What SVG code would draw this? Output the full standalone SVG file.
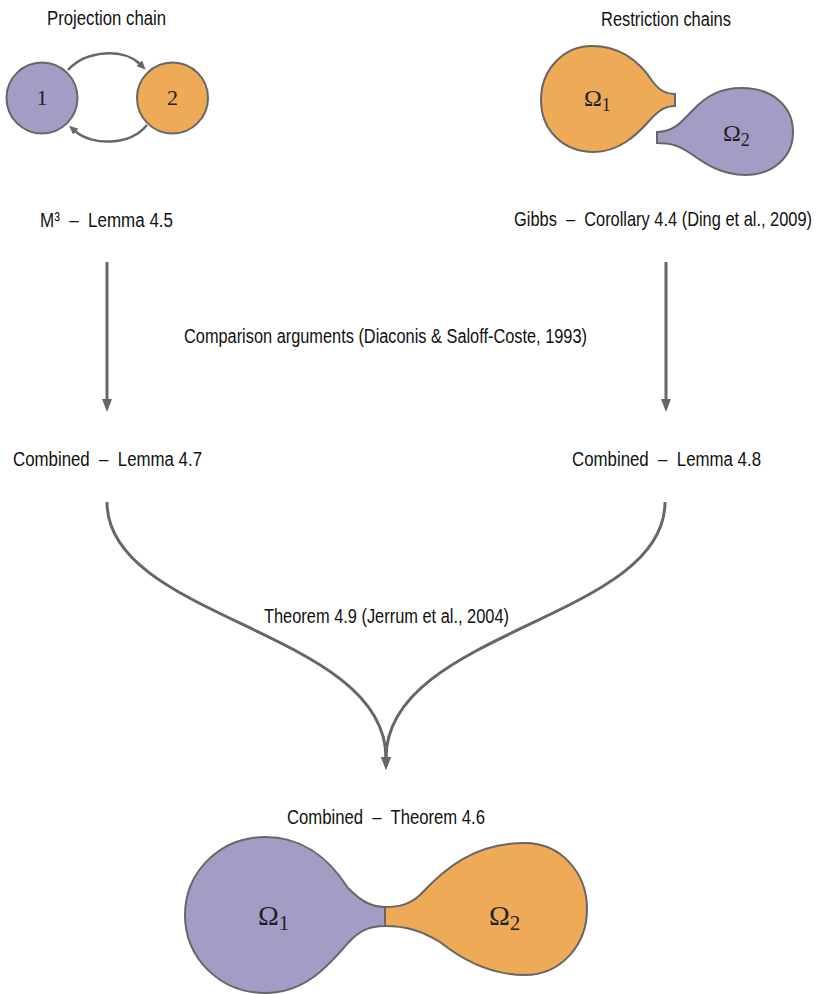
<svg xmlns="http://www.w3.org/2000/svg" width="821" height="994" viewBox="0 0 821 994">
<style>
.t{font-family:"Liberation Sans",Arial,sans-serif;font-size:20px;fill:#111}
.m{font-family:"Liberation Serif","DejaVu Serif",serif;fill:#222}
.pu{fill:#a59cc5;stroke:#666;stroke-width:2}
.or{fill:#eeaa57;stroke:#666;stroke-width:2}
.c{fill:none;stroke:#666}
</style>
<defs>
<marker id="big" markerUnits="userSpaceOnUse" viewBox="0 0 13 10" refX="1" refY="5" markerWidth="13" markerHeight="10" orient="auto">
<path d="M0,0 L13,5 L0,10 Z" fill="#666"/>
</marker>
<marker id="sm" markerUnits="userSpaceOnUse" viewBox="0 0 9 8" refX="1" refY="4" markerWidth="9" markerHeight="8" orient="auto">
<path d="M0,0 L9,4 L0,8 Z" fill="#666"/>
</marker>
</defs>
<g id="titles">
<text class="t" x="47" y="25" textLength="119" lengthAdjust="spacingAndGlyphs">Projection chain</text>
<text class="t" x="601" y="26" textLength="130" lengthAdjust="spacingAndGlyphs">Restriction chains</text>
</g>
<g id="node-1">
<circle cx="42" cy="98" r="35.5" class="pu"/>
<text class="m" x="42" y="105" font-size="22" text-anchor="middle">1</text>
</g>
<g id="node-2">
<circle cx="172.5" cy="98" r="35.5" class="or"/>
<text class="m" x="172.5" y="105" font-size="22" text-anchor="middle">2</text>
</g>
<g id="restriction-omega1">
<path class="or" d="M675,94 C666,94 660,91 653,82 C640,62 620,46 592,46 C563,46 541,70 541,100 C541,130 563,152 594,152 C618,152 636,136 650,120 C658,111 665,106 675,106 Z"/>
<text class="m" x="584" y="106" font-size="24">Ω<tspan font-size="18" dy="5">1</tspan></text>
</g>
<g id="restriction-omega2">
<path class="pu" d="M657,132 C672,132 680,124 692,111 C706,96 720,88 742,88 C772,88 793,106 793,132 C793,158 772,175 745,175 C722,175 705,164 690,153 C678,145 670,143 657,143 Z"/>
<text class="m" x="723" y="141" font-size="24">Ω<tspan font-size="18" dy="5">2</tspan></text>
</g>
<g id="label-m3">
<text class="t" x="40" y="227" textLength="133" lengthAdjust="spacingAndGlyphs">M³ &#160;–&#160; Lemma 4.5</text>
</g>
<g id="label-gibbs">
<text class="t" transform="translate(514,226) scale(0.85,1)" x="0" y="0" textLength="350.6" lengthAdjust="spacingAndGlyphs">Gibbs &#160;–&#160; Corollary 4.4 (Ding et al., 2009)</text>
</g>
<g id="label-comparison">
<text class="t" x="184" y="343" textLength="403" lengthAdjust="spacingAndGlyphs">Comparison arguments (Diaconis &amp; Saloff-Coste, 1993)</text>
</g>
<g id="label-lemma47">
<text class="t" x="13" y="466" textLength="189" lengthAdjust="spacingAndGlyphs">Combined &#160;–&#160; Lemma 4.7</text>
</g>
<g id="label-lemma48">
<text class="t" x="572" y="466" textLength="189" lengthAdjust="spacingAndGlyphs">Combined &#160;–&#160; Lemma 4.8</text>
</g>
<g id="label-theorem49">
<text class="t" x="264" y="623" textLength="245" lengthAdjust="spacingAndGlyphs">Theorem 4.9 (Jerrum et al., 2004)</text>
</g>
<g id="label-theorem46">
<text class="t" x="287" y="824" textLength="198" lengthAdjust="spacingAndGlyphs">Combined &#160;–&#160; Theorem 4.6</text>
</g>
<g id="combined-omega1">
<path class="pu" d="M385,907 C370,907 360,900 348,888 C330,860 305,837 265,837 C220,837 185,872 185,915 C185,958 220,993 265,993 C305,993 328,966 348,943 C360,930 370,926 385,926 Z"/>
<text class="m" x="258" y="925" font-size="28">Ω<tspan font-size="21" dy="5">1</tspan></text>
</g>
<g id="combined-omega2">
<path class="or" d="M385,907 C400,907 410,904 420,895 C445,868 475,843 525,843 C560,843 587,872 587,909 C587,946 560,975 525,975 C490,975 460,958 440,942 C420,930 405,926 385,926 Z"/>
<text class="m" x="489" y="925" font-size="28">Ω<tspan font-size="21" dy="5">2</tspan></text>
</g>
<g id="connectors">
<path class="c" stroke-width="2.5" d="M68,70 C86,50 124,48 140,64" marker-end="url(#sm)"/>
<path class="c" stroke-width="2.5" d="M147,125 C130,146 92,146 75,131" marker-end="url(#sm)"/>
<path class="c" stroke-width="3" d="M107,262 L107,400" marker-end="url(#big)"/>
<path class="c" stroke-width="3" d="M666,262 L666,400" marker-end="url(#big)"/>
<path class="c" stroke-width="3" d="M107,502 C107,620 386,630 386,758" marker-end="url(#big)"/>
<path class="c" stroke-width="3" d="M665,502 C665,620 386,630 386,758" marker-end="url(#big)"/>
</g>
</svg>
